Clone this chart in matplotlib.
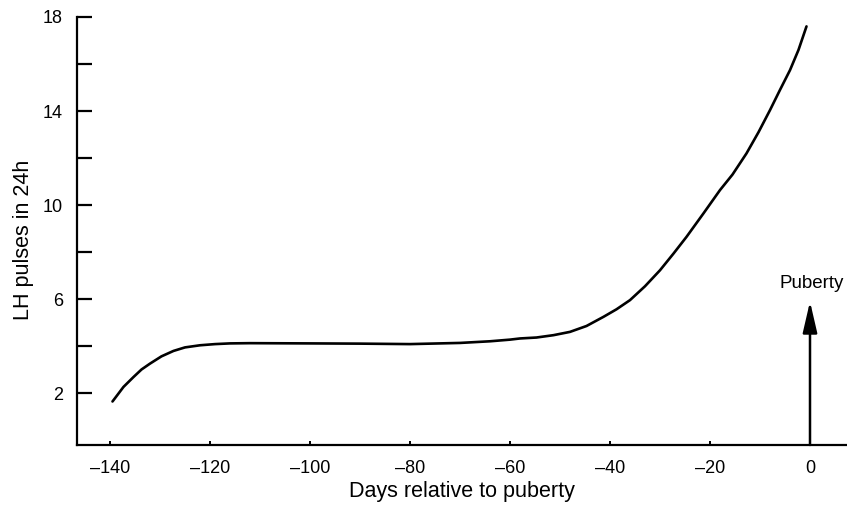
import matplotlib
matplotlib.use("Agg")
import matplotlib.pyplot as plt

plt.rcParams["font.family"] = ["Liberation Sans", "DejaVu Sans"]

# LH pulse frequency across the run-up to puberty
days = [-139.5, -137.3, -135.3, -133.7, -132, -129.7, -127.3, -125, -122,
        -119, -116, -112, -100, -90, -80, -70, -64, -60, -58, -54.7, -51.3,
        -48, -44.7, -41.3, -38.7, -36, -33, -30, -27.3, -24.7, -21.3, -18,
        -15.5, -12.7, -10.3, -8, -6, -4, -2.3, -0.7]
pulses = [1.65, 2.27, 2.69, 3.01, 3.26, 3.57, 3.80, 3.95, 4.04,
          4.09, 4.12, 4.13, 4.12, 4.11, 4.09, 4.14, 4.21, 4.28, 4.33, 4.37,
          4.47, 4.61, 4.86, 5.25, 5.57, 5.96, 6.55, 7.23, 7.94, 8.65, 9.65,
          10.64, 11.3, 12.2, 13.1, 14.04, 14.9, 15.74, 16.6, 17.6]

x_ticks = [-140, -120, -100, -80, -60, -40, -20, 0]
y_major = [2, 6, 10, 14, 18]
y_minor = [4, 8, 12, 16]

puberty_day = 0
arrow_top = 5.9

fig = plt.figure(figsize=(8.47, 5.07), dpi=100)
ax = fig.add_axes([0.0909, 0.1223, 0.9091, 0.8442])

ax.plot(days, pulses, color="black", lw=1.9, solid_capstyle="round",
        solid_joinstyle="round")

ax.annotate("", xy=(puberty_day, arrow_top), xytext=(puberty_day, -0.2),
            arrowprops=dict(arrowstyle="-|>,head_length=0.95,head_width=0.22",
                            mutation_scale=20, color="black", lw=1.8,
                            shrinkA=0, shrinkB=0))
ax.text(puberty_day + 0.3, 6.3, "Puberty", ha="center", va="bottom", fontsize=13.5)

ax.set_xlim(-146.6, 7.4)
ax.set_ylim(-0.2, 18)

ax.set_xticks(x_ticks)
ax.set_xticklabels([("\u2013" + str(-v)) if v < 0 else str(v) for v in x_ticks])
ax.set_yticks(y_major)
ax.set_yticks(y_minor, minor=True)

ax.tick_params(axis="y", which="both", direction="in", length=11, width=1.6,
               labelsize=13, pad=10)
ax.tick_params(axis="x", which="both", direction="in", length=3, width=1.4,
               labelsize=13, pad=11)

for side in ("top", "right"):
    ax.spines[side].set_visible(False)
for side in ("left", "bottom"):
    ax.spines[side].set_linewidth(1.6)

ax.set_xlabel("Days relative to puberty", fontsize=15.5, labelpad=3)
ax.set_ylabel("LH pulses in 24h", fontsize=15.5)
ax.yaxis.set_label_coords(-0.056, 0.48)

fig.savefig("out.png", dpi=100)
